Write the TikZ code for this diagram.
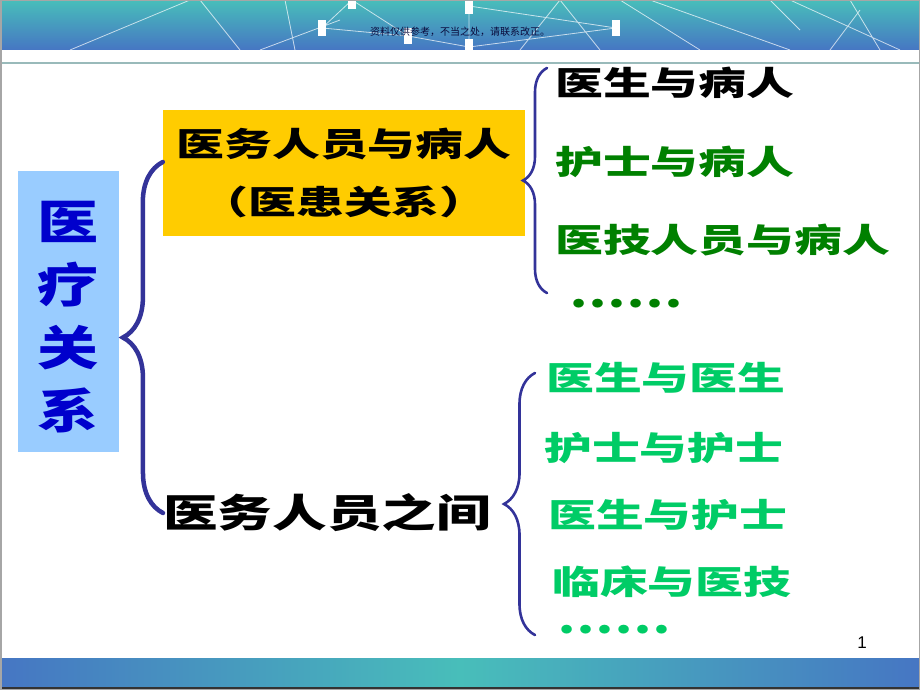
\documentclass[tikz,border=0pt]{standalone}
\usepackage{fontspec}
\setmainfont{Liberation Sans}
\newfontfamily\cjk{Noto Sans CJK SC}
\usepackage{graphicx}
\usetikzlibrary{decorations.pathreplacing}
\definecolor{rootblue}{RGB}{153,204,255}
\definecolor{groupgold}{RGB}{255,204,0}
\definecolor{bracecol}{RGB}{51,51,153}
\definecolor{darkgreen}{RGB}{0,128,0}
\definecolor{lightgreen}{RGB}{0,204,102}
\definecolor{titleblue}{RGB}{0,0,204}
\definecolor{bannerteal}{RGB}{72,190,186}
\definecolor{bannerblue}{RGB}{70,118,195}
\definecolor{notenavy}{RGB}{10,10,60}
\newcommand{\widen}[1]{\scalebox{1.45}[1]{#1}}

\begin{document}
\begin{tikzpicture}[x=1pt, y=-1pt,
    item/.style={inner sep=0pt, anchor=west, font=\cjk\bfseries\fontsize{33}{40}\selectfont,
      text height=27pt, text depth=2pt},
    dotrow/.style={inner sep=0pt, font=\cjk\bfseries\fontsize{40}{44}\selectfont},
    groupbox/.style={inner sep=0pt, align=center, font=\cjk\bfseries\fontsize{33}{58}\selectfont},
    rootbox/.style={fill=rootblue, inner sep=0pt, minimum width=101pt, minimum height=281pt,
      align=center, text=titleblue, font=\cjk\bfseries\fontsize{47}{63}\selectfont},
    bracket/.style={draw=bracecol, line cap=round, decorate, decoration={brace, amplitude=#1}},
  ]
    \useasboundingbox (0,0) rectangle (920,690);

    % top and bottom banners
    \shade[top color=bannerteal, bottom color=bannerblue] (0,0) rectangle (920,50);
    \begin{scope}
        \clip (0,0) rectangle (920,50);
        \draw[white, opacity=0.7, line width=0.8pt]
            (322,28) -- (352,0) (322,28) -- (408,36) -- (469,47) (352,0) -- (408,36)
            (469,6) -- (616,28) (616,28) -- (469,47) (469,0) -- (469,50)
            (70,50) -- (190,0) (200,0) -- (240,50) (285,0) -- (295,50) (260,50) -- (340,20)
            (560,0) -- (600,50) (620,0) -- (700,50) (650,0) -- (790,50) (770,0) -- (800,30)
            (790,0) -- (900,50) (850,0) -- (880,50) (860,10) -- (830,50) (560,0) -- (520,50);
        \foreach \px/\py in {352/1, 469/6, 322/28, 616/28, 408/36, 469/47}
            \fill[white] (\px-4,\py-8) rectangle (\px+4,\py+8);
    \end{scope}
    \draw[black!35!teal!40, line width=2pt] (0,63) -- (920,63);
    \shade[left color=bannerblue, right color=bannerblue, middle color=bannerteal] (0,658) rectangle (920,687);
    \fill[black!80] (0,687) rectangle (920,690);
    \draw[gray!70, line width=1.5pt] (0.75,0.75) rectangle (919.25,689.25);

    \node[font=\cjk\fontsize{10}{12}\selectfont, text=notenavy] (note) at (460,32) {资料仅供参考，不当之处，请联系改正。};
    \node[font=\fontsize{17}{20}\selectfont] (pagenum) at (862,643) {1};

    % root and the two groups
    \node[rootbox] (root) at (68.5,311)
        {\rule{0pt}{51pt}\scalebox{1.3}[1]{医}\\\scalebox{1.3}[1]{疗}\\\scalebox{1.3}[1]{关}\\\scalebox{1.3}[1]{系}};
    \node[groupbox, fill=groupgold, minimum width=362pt, minimum height=126pt] (rel) at (344,173)
        {\widen{医务人员与病人}\\\widen{（医患关系）}};
    \node[groupbox, font=\cjk\bfseries\fontsize{39}{44}\selectfont] (staff) at (327,513)
        {\scalebox{1.4}[1]{医务人员之间}};

    % items of the first group
    \node[item] (docpat) at (555,83) {\widen{医生与病人}};
    \node[item, text=darkgreen] (nurpat) at (555,162) {\widen{护士与病人}};
    \node[item, text=darkgreen] (techpat) at (555,240) {\widen{医技人员与病人}};
    \node[dotrow, text=darkgreen] (moreA) at (626,304) {\scalebox{1.25}[1]{……}};

    % items of the second group
    \node[item, text=lightgreen] (docdoc) at (546,378) {\widen{医生与医生}};
    \node[item, text=lightgreen] (nurnur) at (544,448) {\widen{护士与护士}};
    \node[item, text=lightgreen] (docnur) at (548,515) {\widen{医生与护士}};
    \node[item, text=lightgreen] (clintech) at (552,582) {\widen{临床与医技}};
    \node[dotrow, text=lightgreen] (moreB) at (614,630) {\scalebox{1.25}[1]{……}};

    % braces
    \coordinate (b2top) at (547,68);
    \coordinate (b2bot) at (547,293);
    \coordinate (b3top) at (535,373);
    \coordinate (b3bot) at (535,635);
    \draw[bracket=40pt, line width=4.5pt] (staff.west) -- ([yshift=11pt]rel.west);
    \draw[bracket=24pt, line width=2.6pt] (b2bot) -- (b2top);
    \draw[bracket=31pt, line width=2.6pt] (b3bot) -- (b3top);
\end{tikzpicture}
\end{document}
